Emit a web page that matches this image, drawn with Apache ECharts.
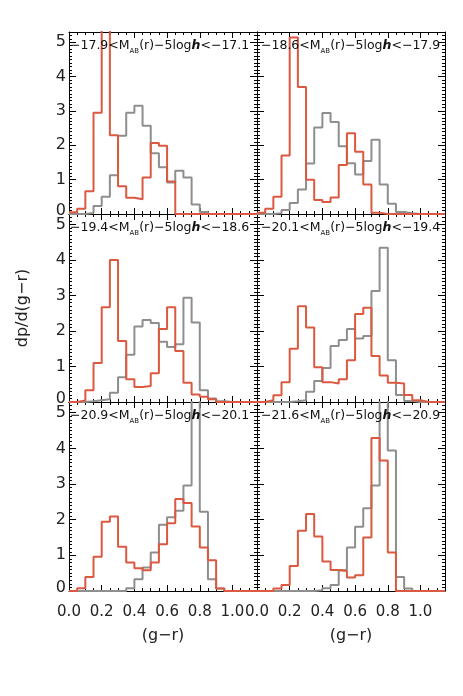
<!DOCTYPE html>
<html>
<head>
<meta charset="utf-8">
<script src="https://cdn.jsdelivr.net/npm/echarts@6/dist/echarts.min.js"></script>
<style>
  html, body { margin: 0; padding: 0; background: #fff; }
  #chart { width: 463px; height: 696px; }
</style>
</head>
<body>
<div id="chart"></div>
<script>
// bin edges in (g-r), 0.05 wide
const binEdges = [0.00, 0.05, 0.10, 0.15, 0.20, 0.25, 0.30, 0.35, 0.40, 0.45, 0.50, 0.55,
  0.60, 0.65, 0.70, 0.75, 0.80, 0.85, 0.90, 0.95, 1.00, 1.05, 1.10, 1.15];

const magLo = ["−17.9", "−18.6", "−19.4", "−20.1", "−20.9", "−21.6"];
const magHi = ["−17.1", "−17.9", "−18.6", "−19.4", "−20.1", "−20.9"];

// red histograms, one value per bin
const red1 = [0.05, 0.15, 0.66, 2.95, 6.0, 2.29, 0.81, 0.47, 0.43, 1.06, 2.07, 1.99, 0.95, 0, 0, 0, 0, 0, 0, 0, 0, 0, 0];
const red2 = [0.04, 0.15, 0.5, 1.7, 5.14, 3.7, 1.0, 0.41, 0.35, 0.48, 1.43, 2.35, 1.81, 0.86, 0.04, 0, 0, 0, 0, 0, 0, 0, 0];
const red3 = [0, 0.04, 0.33, 1.1, 2.67, 4.0, 1.72, 0.64, 0.42, 0.45, 0.81, 2.06, 2.67, 1.44, 0.54, 0.21, 0.15, 0.08, 0, 0, 0, 0, 0];
const red4 = [0, 0.05, 0.19, 0.56, 1.5, 2.7, 2.1, 0.98, 0.56, 0.52, 0.64, 1.18, 2.48, 2.66, 1.3, 0.75, 0.54, 0.52, 0.2, 0.05, 0, 0, 0];
const red5 = [0, 0.08, 0.39, 0.96, 1.94, 2.09, 1.24, 0.8, 0.64, 0.58, 0.8, 1.31, 1.9, 2.58, 2.47, 1.81, 1.22, 0.86, 0.07, 0, 0, 0, 0];
const red6 = [0, 0, 0.07, 0.17, 0.7, 1.69, 2.16, 1.53, 0.83, 0.59, 0.56, 0.38, 0.44, 1.5, 4.29, 3.66, 1.08, 0, 0, 0, 0, 0, 0];

// gray histograms
const gray1 = [0, 0, 0.03, 0.23, 0.5, 1.13, 2.28, 2.95, 3.15, 2.57, 1.77, 1.36, 0.92, 1.26, 1.06, 0.28, 0.06, 0, 0, 0, 0, 0, 0];
const gray2 = [0, 0, 0.02, 0.12, 0.32, 0.71, 1.47, 2.52, 2.94, 2.68, 1.97, 1.48, 1.15, 1.54, 2.16, 0.86, 0.3, 0.06, 0.02, 0, 0, 0, 0];
const gray3 = [0, 0, 0.02, 0.05, 0.08, 0.26, 0.7, 1.33, 2.13, 2.31, 2.23, 1.7, 1.55, 1.63, 2.94, 2.24, 0.33, 0.1, 0.02, 0, 0, 0, 0];
const gray4 = [0, 0, 0, 0, 0.02, 0.05, 0.29, 0.59, 0.96, 1.58, 1.75, 2.06, 1.79, 1.86, 3.13, 4.35, 1.18, 0.2, 0.03, 0, 0, 0, 0];
const gray5 = [0, 0, 0, 0, 0, 0, 0, 0.08, 0.33, 0.66, 1.08, 1.86, 2.07, 2.25, 2.96, 5.8, 2.22, 0.33, 0.07, 0, 0, 0, 0];
const gray6 = [0, 0, 0, 0, 0, 0, 0, 0.02, 0.08, 0.17, 0.58, 1.22, 1.8, 2.32, 2.96, 5.8, 3.94, 0.39, 0.07, 0, 0, 0, 0];

const reds = [red1, red2, red3, red4, red5, red6];
const grays = [gray1, gray2, gray3, gray4, gray5, gray6];

const xTicks = [0, 1.15, 0.2];   // min, max, interval
const yTicks = [0, 5.3, 1];

const RED = "#db5940";
const GRAY = "#8e8e8e";
const FONT = "DejaVu Sans";

const colLeft = [69, 257];
const colWidth = 188;
const rowTop = [32, 214, 402];
const rowHeight = [182, 188, 189];

function steps(vals) {
  return binEdges.map((x, i) => [x, vals[Math.min(i, vals.length - 1)]]);
}

const grids = [], xAxes = [], yAxes = [], series = [], titles = [];

for (let p = 0; p < 6; p++) {
  const row = Math.floor(p / 2), col = p % 2;
  grids.push({ left: colLeft[col], top: rowTop[row], width: colWidth, height: rowHeight[row] });

  const isBottom = row === 2;
  const baseX = {
    gridIndex: p, type: "value", min: xTicks[0], max: xTicks[1], interval: xTicks[2],
    axisLine: { show: true, onZero: false, lineStyle: { color: "#000", width: 1 } },
    axisTick: { show: true, inside: true, length: 6, lineStyle: { color: "#000" } },
    minorTick: { show: true, splitNumber: 4, length: 3, lineStyle: { color: "#000" } },
    splitLine: { show: false }
  };
  xAxes.push(Object.assign({}, baseX, {
    position: "bottom",
    axisLabel: {
      show: isBottom, color: "#222", fontFamily: FONT, fontSize: 15, margin: 14,
      showMaxLabel: false, formatter: v => v.toFixed(1)
    },
    name: isBottom ? "(g−r)" : "",
    nameLocation: "middle", nameGap: 37,
    nameTextStyle: { color: "#222", fontFamily: FONT, fontSize: 16 }
  }));
  xAxes.push(Object.assign({}, baseX, { position: "top", axisLabel: { show: false } }));

  const baseY = {
    gridIndex: p, type: "value", min: yTicks[0], max: yTicks[1], interval: yTicks[2],
    axisLine: { show: true, onZero: false, lineStyle: { color: "#000", width: 1 } },
    axisTick: { show: true, inside: true, length: 7, lineStyle: { color: "#000" } },
    minorTick: { show: true, splitNumber: 10, length: 3, lineStyle: { color: "#000" } },
    splitLine: { show: false }
  };
  yAxes.push(Object.assign({}, baseY, {
    position: "left",
    axisLabel: {
      show: col === 0, color: "#222", fontFamily: FONT, fontSize: 16, margin: 3,
      showMaxLabel: false,
      formatter: v => (v === 0 ? "{z|0}" : String(v)),
      rich: { z: { fontFamily: FONT, fontSize: 16, color: "#222", padding: [0, 0, 7, 0] } }
    },
    name: p === 2 ? "dp/d(g−r)" : "",
    nameLocation: "middle", nameGap: 38, nameRotate: 90,
    nameTextStyle: { color: "#222", fontFamily: FONT, fontSize: 16 }
  }));
  yAxes.push(Object.assign({}, baseY, { position: "right", axisLabel: { show: false } }));

  series.push({
    type: "line", xAxisIndex: 2 * p, yAxisIndex: 2 * p, step: "end", symbol: "none",
    data: steps(grays[p]), lineStyle: { color: GRAY, width: 2 }, silent: true
  });
  series.push({
    type: "line", xAxisIndex: 2 * p, yAxisIndex: 2 * p, step: "end", symbol: "none",
    data: steps(reds[p]), lineStyle: { color: RED, width: 2 }, silent: true
  });

  titles.push({
    left: colLeft[col] + (col === 0 ? 1 : 4),
    top: rowTop[row] + 5,
    padding: 0,
    text: `{t|${magLo[p]}<M}{s|AB}{t|(r)−5log}{h|h}{t|<${magHi[p]}}`,
    textStyle: {
      fontWeight: "normal",
      rich: {
        t: { fontFamily: FONT, fontSize: 12.5, fontWeight: "normal", color: "#111" },
        s: { fontFamily: FONT, fontSize: 7, fontWeight: "normal", color: "#111", padding: [11, 0, 0, 0] },
        h: { fontFamily: FONT, fontSize: 12.5, color: "#111", fontStyle: "italic", fontWeight: "bold" }
      }
    }
  });
}

const chart = echarts.init(document.getElementById("chart"));
chart.setOption({
  animation: false,
  backgroundColor: "#fff",
  title: titles,
  grid: grids,
  xAxis: xAxes,
  yAxis: yAxes,
  series: series
});
</script>
</body>
</html>
